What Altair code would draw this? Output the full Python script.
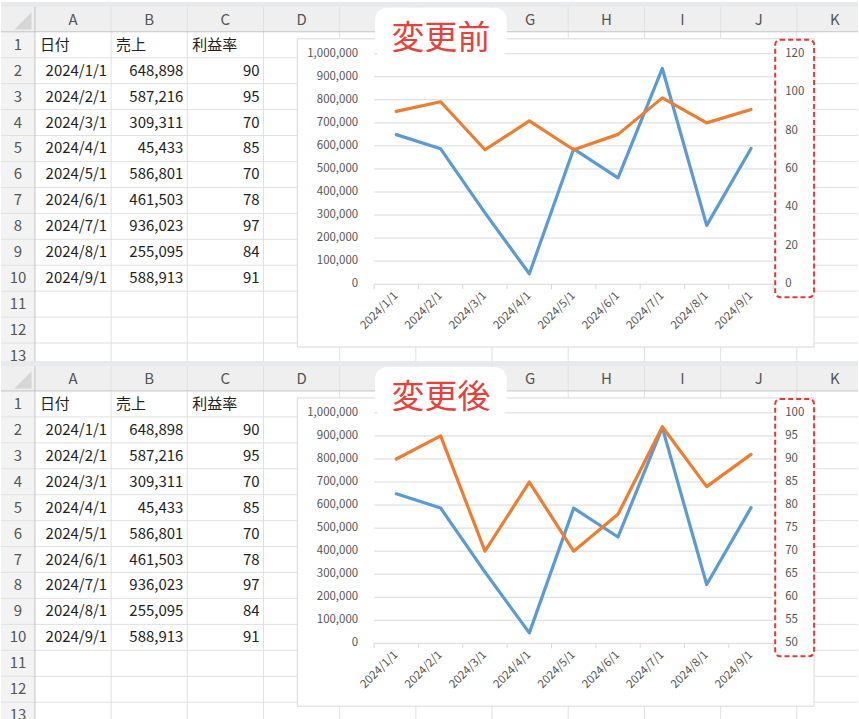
import altair as alt
import pandas as pd

# ---------------- data ----------------
dates = ["2024/1/1", "2024/2/1", "2024/3/1", "2024/4/1", "2024/5/1",
         "2024/6/1", "2024/7/1", "2024/8/1", "2024/9/1"]
sales = [648898, 587216, 309311, 45433, 586801, 461503, 936023, 255095, 588913]
margin = [90, 95, 70, 85, 70, 78, 97, 84, 91]
headers = ["日付", "売上", "利益率"]
header_cols = ["A", "B", "C"]
columns = ["A", "B", "C", "D", "E", "F", "G", "H", "I", "J", "K"]
rows = list(range(1, 14))
left_ticks = [0, 100000, 200000, 300000, 400000, 500000, 600000, 700000, 800000, 900000, 1000000]
right_ticks_before = [0, 20, 40, 60, 80, 100, 120]
right_ticks_after = [50, 55, 60, 65, 70, 75, 80, 85, 90, 95, 100]
titles = ["変更前", "変更後"]

# ---------------- layout / style ----------------
W = 859
FONT = "Noto Sans CJK JP"
BLUE = "#5B9BD5"
ORANGE = "#ED7D31"
RED = "#E8403A"
GRID = "#e1e1e1"
AXIS_TXT = "#555555"
COL_RANGE = [34, 874]
TITLE_BOX = (375, 6, 507, 57)

table = pd.DataFrame({"date": dates, "sales": sales, "margin": margin,
                      "row": [i + 2 for i in range(len(dates))],
                      "idx": list(range(len(dates)))})

col_scale = alt.Scale(type="band", domain=columns, range=COL_RANGE, paddingInner=0, paddingOuter=0)
row_scale = alt.Scale(type="band", domain=rows, range=[30, 30 + 26 * len(rows)], paddingInner=0, paddingOuter=0)
x_point = alt.Scale(type="point", domain=dates, range=[374, 774], padding=0.5)
sales_scale = alt.Scale(domain=[0, 1000000], range=[283, 52], nice=False, zero=False)
bound_scale = alt.Scale(domain=[0, len(dates)], range=[374, 774], nice=False, zero=False)

one = pd.DataFrame({"k": [0]})

# column letters hidden behind the title label are not drawn
step = (COL_RANGE[1] - COL_RANGE[0]) / len(columns)
visible_cols = [c for i, c in enumerate(columns)
                if not (TITLE_BOX[0] - 4 <= COL_RANGE[0] + step * (i + 0.5) <= TITLE_BOX[2] + 4)]


def box(x, y, x2, y2, **kw):
    return alt.Chart(one).mark_rect(clip=True, **kw).encode(
        x=alt.value(x), x2=alt.value(x2), y=alt.value(y), y2=alt.value(y2))


def panel(title_text, r_ticks, H):
    r_scale = alt.Scale(domain=[r_ticks[0], r_ticks[-1]], range=[283, 52], nice=False, zero=False)
    layers = []
    # sheet background
    layers.append(box(0, 0, W, H, fill="white"))
    layers.append(box(0, 30, 34, H, fill="#f3f3f3"))
    layers.append(box(0, 0, W, 30, fill="#efefef"))
    layers.append(box(0, 0, W, 5, fill="#e7e9ec"))
    # corner triangle
    layers.append(alt.Chart(one).mark_point(shape="M 1 -1 L 1 1 L -1 1 Z", filled=True,
                                            color="#d6d6d6", opacity=1, size=300).encode(
        x=alt.value(22), y=alt.value(19)))
    # vertical grid lines
    layers.append(alt.Chart(pd.DataFrame({"col": columns})).mark_rule(
        color=GRID, strokeWidth=1, clip=True).encode(
        x=alt.X("col:N", scale=col_scale, bandPosition=1, axis=None),
        y=alt.value(5), y2=alt.value(H)))
    # horizontal grid lines
    vis_rows = [r for r in rows if 30 + 26 * r < H]
    layers.append(alt.Chart(pd.DataFrame({"row": vis_rows})).mark_rule(
        color=GRID, strokeWidth=1, clip=True).encode(
        y=alt.Y("row:O", scale=row_scale, bandPosition=1, axis=None),
        x=alt.value(0), x2=alt.value(W)))
    layers.append(alt.Chart(one).mark_rule(color="#c4c4c4", clip=True).encode(
        x=alt.value(0), x2=alt.value(W), y=alt.value(30)))
    layers.append(alt.Chart(one).mark_rule(color="#c4c4c4", clip=True).encode(
        x=alt.value(34), y=alt.value(5), y2=alt.value(H)))
    # column letters
    layers.append(alt.Chart(pd.DataFrame({"col": visible_cols})).mark_text(
        font=FONT, fontSize=15, color="#555555", baseline="middle").encode(
        x=alt.X("col:N", scale=col_scale, axis=None), y=alt.value(18), text="col:N"))
    # row numbers
    layers.append(alt.Chart(pd.DataFrame({"row": rows})).mark_text(
        font=FONT, fontSize=15, color="#555555", baseline="middle").encode(
        y=alt.Y("row:O", scale=row_scale, axis=None), x=alt.value(17), text="row:O"))
    # header cells
    layers.append(alt.Chart(pd.DataFrame({"col": header_cols, "text": headers})).transform_calculate(
        row="1").mark_text(font=FONT, fontSize=15, color="#222222", align="left", baseline="middle", dx=5).encode(
        x=alt.X("col:N", scale=col_scale, bandPosition=0, axis=None),
        y=alt.Y("row:O", scale=row_scale, axis=None), text="text:N"))
    # data cells
    cell = dict(font=FONT, fontSize=15, color="#222222", align="right", baseline="middle")
    for colname, field, fmt in [("A", "date", None), ("B", "sales", ","), ("C", "margin", None)]:
        txt = alt.Text(f"{field}:Q", format=fmt) if fmt else alt.Text(f"{field}:N")
        layers.append(alt.Chart(table).transform_calculate(c=f"'{colname}'").mark_text(
            dx=-4, **cell).encode(
            x=alt.X("c:N", scale=col_scale, bandPosition=1, axis=None),
            y=alt.Y("row:O", scale=row_scale, axis=None), text=txt))

    # ---- chart object ----
    layers.append(box(297, 37, 815, 346, fill="white", stroke="#d9d9d9", strokeWidth=1))
    layers.append(alt.Chart(pd.DataFrame({"v": left_ticks})).mark_rule(color="#d9d9d9", strokeWidth=1).encode(
        y=alt.Y("v:Q", scale=sales_scale, axis=None), x=alt.value(374), x2=alt.value(774)))
    layers.append(alt.Chart(pd.DataFrame({"b": list(range(len(dates) + 1))})).mark_rule(
        color="#d9d9d9", strokeWidth=1).encode(
        x=alt.X("b:Q", scale=bound_scale, axis=None), y=alt.value(283), y2=alt.value(288)))
    layers.append(alt.Chart(pd.DataFrame({"v": left_ticks})).mark_text(
        font=FONT, fontSize=11.5, color=AXIS_TXT, align="right", baseline="middle").encode(
        y=alt.Y("v:Q", scale=sales_scale, axis=None), x=alt.value(358), text=alt.Text("v:Q", format=",")))
    layers.append(alt.Chart(pd.DataFrame({"v": r_ticks})).mark_text(
        font=FONT, fontSize=11.5, color=AXIS_TXT, align="left", baseline="middle").encode(
        y=alt.Y("v:Q", scale=r_scale, axis=None), x=alt.value(786), text=alt.Text("v:Q")))
    layers.append(alt.Chart(table).mark_text(
        font=FONT, fontSize=11.5, color=AXIS_TXT, align="right", baseline="middle", angle=315).encode(
        x=alt.X("date:N", scale=x_point, axis=None), y=alt.value(293), text="date:N"))
    layers.append(alt.Chart(table).mark_line(color=BLUE, strokeWidth=3.2, strokeJoin="round", strokeCap="round").encode(
        x=alt.X("date:N", scale=x_point, axis=None),
        y=alt.Y("sales:Q", scale=sales_scale, axis=None), order="idx:Q"))
    layers.append(alt.Chart(table).mark_line(color=ORANGE, strokeWidth=3.2, strokeJoin="round", strokeCap="round").encode(
        x=alt.X("date:N", scale=x_point, axis=None),
        y=alt.Y("margin:Q", scale=r_scale, axis=None), order="idx:Q"))
    # highlight box around secondary axis
    layers.append(box(776, 38, 815, 296, filled=False, stroke="#E53935", strokeWidth=2,
                      strokeDash=[5, 3], cornerRadius=5))
    # title label
    layers.append(box(*TITLE_BOX, fill="white", cornerRadius=12))
    layers.append(alt.Chart(pd.DataFrame({"t": [title_text]})).mark_text(
        font=FONT, fontSize=33, color=RED, align="center", baseline="middle").encode(
        x=alt.value(441), y=alt.value(37), text="t:N"))

    return alt.layer(*layers).resolve_scale(x="independent", y="independent").properties(width=W, height=H)


top = panel(titles[0], right_ticks_before, 360)
bottom = panel(titles[1], right_ticks_after, 359)

chart = alt.VConcatChart(vconcat=[top, bottom], spacing=0, bounds="flush", padding=0,
                         background="white").configure_view(stroke="transparent")

chart.save("out.html", embed_options={"renderer": "svg", "actions": False})
